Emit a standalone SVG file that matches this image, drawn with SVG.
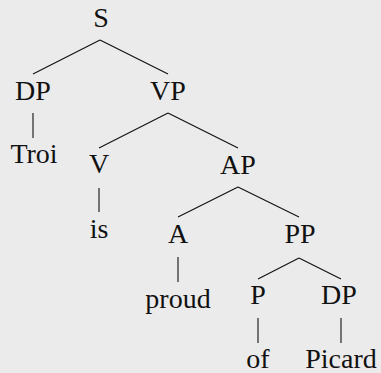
<svg xmlns="http://www.w3.org/2000/svg" width="381" height="373" viewBox="0 0 381 373">
<style>
.t text{text-anchor:middle}
.e line{stroke:#111;stroke-width:1.1}
</style>
<rect width="381" height="373" fill="#ebebeb"/>
<g class="e" id="edges">
<line x1="100" y1="40" x2="33" y2="74"/>
<line x1="100" y1="40" x2="168" y2="74"/>
<line x1="33" y1="113" x2="33" y2="138"/>
<line x1="168" y1="113" x2="99" y2="148"/>
<line x1="168" y1="113" x2="238" y2="148"/>
<line x1="99" y1="188" x2="99" y2="212"/>
<line x1="238" y1="187" x2="178" y2="217"/>
<line x1="238" y1="187" x2="299" y2="217"/>
<line x1="178" y1="257" x2="178" y2="282"/>
<line x1="299" y1="258" x2="258" y2="279"/>
<line x1="299" y1="258" x2="341" y2="279"/>
<line x1="258" y1="318" x2="258" y2="343"/>
<line x1="341" y1="318" x2="341" y2="343"/>
</g>
<g class="t" font-family="Liberation Serif" font-size="28" fill="#111">
<g id="S"><text x="101" y="27">S</text></g>
<g id="DP1"><text x="33" y="100">DP</text></g>
<g id="VP"><text x="168" y="100">VP</text></g>
<g id="Troi"><text x="34" y="163">Troi</text></g>
<g id="V"><text x="99" y="173">V</text></g>
<g id="AP"><text x="238" y="174">AP</text></g>
<g id="is"><text x="99" y="238">is</text></g>
<g id="A"><text x="178" y="243">A</text></g>
<g id="PP"><text x="300" y="243">PP</text></g>
<g id="proud"><text x="178" y="308">proud</text></g>
<g id="P"><text x="258" y="304">P</text></g>
<g id="DP2"><text x="339" y="304">DP</text></g>
<g id="of"><text x="258" y="368">of</text></g>
<g id="Picard"><text x="341" y="368">Picard</text></g>
</g>
</svg>
